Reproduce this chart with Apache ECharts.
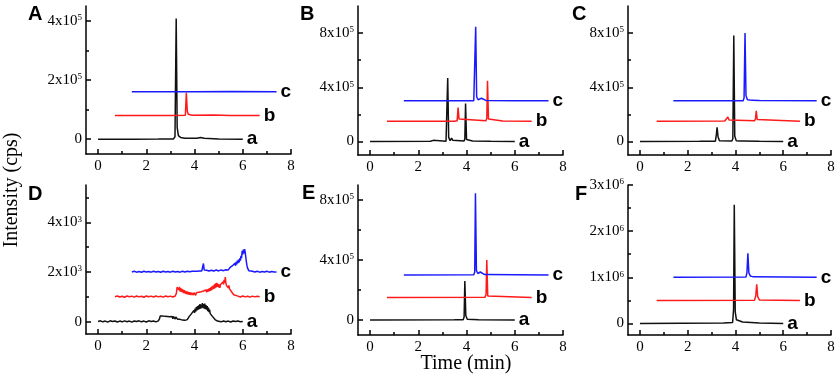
<!DOCTYPE html>
<html>
<head>
<meta charset="utf-8">
<script src="https://cdn.jsdelivr.net/npm/echarts@6/dist/echarts.min.js"></script>
<style>
  html, body { margin: 0; background: #fff; }
  #chart { width: 837px; height: 377px; }
</style>
</head>
<body>
<div id="chart"></div>
<script>
// time axis ticks (same on every panel)
const xMajor = [0, 2, 4, 6, 8];
const xMinor = [1, 3, 5, 7];

// A
const yMajorA = [0, 2e5, 4e5];
const yMinorA = [1e5, 3e5];
const A_a = [[0,0],[1.5,0],[2.5,0.005e5],[3.12,0.01e5],[3.19,0.08e5],[3.24,4.08e5],[3.28,0.4e5],[3.33,0.12e5],[3.37,0.18e5],[3.42,0.06e5],[3.6,0.03e5],[4.1,0.03e5],[4.25,0.06e5],[4.4,0.03e5],[5,0.01e5],[6,0]];
const A_b = [[0.7,0.8e5],[3.0,0.8e5],[3.62,0.81e5],[3.66,1.57e5],[3.7,0.95e5],[3.74,0.84e5],[3.9,0.81e5],[4.8,0.82e5],[5.5,0.8e5],[6.7,0.8e5]];
const A_c = [[1.4,1.6e5],[4,1.6e5],[5.5,1.61e5],[7.4,1.6e5]];

// B
const yMajorB = [0, 4e5, 8e5];
const yMinorB = [2e5, 6e5];
const B_a = [[0,0],[2.5,0.01e5],[2.57,0.02e5],[2.62,0.08e5],[2.67,0.02e5],[3.15,0.02e5],[3.19,0.1e5],[3.22,4.68e5],[3.26,0.3e5],[3.32,0.06e5],[3.38,0.25e5],[3.43,0.08e5],[3.9,0.03e5],[3.93,0.2e5],[3.96,2.8e5],[4.0,0.15e5],[4.06,0.05e5],[4.25,0.04e5],[5,0.02e5],[6,0]];
const B_b = [[0.7,1.5e5],[3.5,1.5e5],[3.61,1.52e5],[3.65,2.5e5],[3.69,1.65e5],[3.74,1.53e5],[4.8,1.52e5],[4.84,1.7e5],[4.87,4.48e5],[4.91,1.65e5],[4.97,1.53e5],[5.5,1.51e5],[6.7,1.5e5]];
const B_c = [[1.4,3e5],[4.3,3.01e5],[4.35,3.1e5],[4.38,8.46e5],[4.42,3.3e5],[4.48,3.08e5],[4.56,3.07e5],[4.62,3.19e5],[4.68,3.06e5],[4.8,3.03e5],[6,3.01e5],[7.4,3e5]];

// C
const yMajorC = [0, 4e5, 8e5];
const yMinorC = [2e5, 6e5];
const C_a = [[0,0],[2.5,0.01e5],[2.59,0.02e5],[2.63,0.06e5],[2.68,0.02e5],[3.16,0.02e5],[3.2,0.5e5],[3.23,1.04e5],[3.27,0.35e5],[3.33,0.05e5],[3.85,0.03e5],[3.89,0.2e5],[3.93,7.83e5],[3.97,0.4e5],[4.03,0.06e5],[4.18,0.04e5],[4.23,0.1e5],[4.28,0.04e5],[5,0.01e5],[6,0]];
const C_b = [[0.7,1.5e5],[3.55,1.51e5],[3.62,1.58e5],[3.68,1.8e5],[3.73,1.58e5],[3.8,1.52e5],[4.8,1.52e5],[4.84,1.7e5],[4.87,2.27e5],[4.91,1.62e5],[4.97,1.52e5],[6.7,1.5e5]];
const C_c = [[1.4,3e5],[4.32,3.01e5],[4.36,3.2e5],[4.4,8.0e5],[4.44,3.4e5],[4.5,3.08e5],[4.6,3.06e5],[4.65,3.15e5],[4.7,3.05e5],[5.0,3.02e5],[7.4,3e5]];

// D (noisy, low level)
const yMajorD = [0, 2e3, 4e3];
const yMinorD = [1e3, 3e3, 5e3];
const D_a = [[0,0],[0.1,30],[0.2,-10],[0.3,20],[0.4,-20],[0.5,30],[0.6,0],[0.7,25],[0.8,-15],[0.9,20],[1.0,-10],[1.1,30],[1.2,-5],[1.3,20],[1.4,-20],[1.5,25],[1.6,0],[1.7,30],[1.8,-10],[1.9,20],[2.0,-15],[2.1,30],[2.2,0],[2.3,25],[2.4,-10],[2.5,30],
  [2.55,120],[2.575,220],[2.6,160],[2.625,250],[2.65,170],[2.675,230],[2.7,150],[2.725,260],[2.75,180],[2.775,210],[2.8,140],[2.825,240],[2.85,160],[2.875,200],[2.9,130],[2.925,230],[2.95,150],[2.975,190],[3.0,120],[3.025,220],[3.05,140],[3.075,200],[3.1,110],[3.125,210],[3.15,130],[3.175,180],[3.2,100],[3.225,190],[3.25,120],[3.275,170],[3.3,90],[3.325,160],[3.35,80],[3.375,150],[3.4,90],[3.425,130],[3.45,70],[3.475,120],[3.5,60],[3.525,110],[3.55,70],[3.575,100],[3.6,50],[3.625,110],[3.65,70],[3.675,120],[3.7,80],[3.725,140],[3.75,100],[3.775,200],
  [3.8,150],[3.825,260],[3.85,200],[3.875,320],[3.9,240],[3.925,380],[3.95,300],[3.975,450],[4.0,350],[4.025,520],[4.05,400],[4.075,580],[4.1,450],[4.125,620],[4.15,480],[4.175,650],[4.2,500],[4.225,700],[4.25,520],[4.275,680],[4.3,540],[4.325,740],[4.35,560],[4.375,700],[4.4,520],[4.425,720],[4.45,500],[4.475,660],[4.5,480],[4.525,620],[4.55,420],[4.575,560],[4.6,380],[4.625,480],[4.65,320],[4.675,400],[4.7,260],[4.725,320],[4.75,200],[4.775,240],[4.8,130],[4.825,170],[4.85,80],[4.875,110],[4.9,40],[4.925,60],[4.95,20],
  [5.0,20],[5.1,-10],[5.2,25],[5.3,-5],[5.4,20],[5.5,-15],[5.6,25],[5.7,0],[5.8,20],[5.9,-10],[6.0,0]];
const D_b = [[0.7,1000],[0.8,1030],[0.9,990],[1.0,1020],[1.1,980],[1.2,1030],[1.3,1000],[1.4,1025],[1.5,985],[1.6,1030],[1.7,995],[1.8,1020],[1.9,980],[2.0,1030],[2.1,1000],[2.2,1025],[2.3,990],[2.4,1030],[2.5,995],[2.6,1020],[2.7,985],[2.8,1030],[2.9,1000],[3.0,1025],[3.1,990],[3.2,1030],
  [3.25,1150],[3.275,1380],[3.3,1300],[3.325,1440],[3.35,1280],[3.375,1400],[3.4,1220],[3.425,1350],[3.45,1200],[3.475,1320],[3.5,1180],[3.525,1290],[3.55,1150],[3.575,1270],[3.6,1140],[3.625,1240],[3.65,1120],[3.675,1220],[3.7,1100],[3.725,1200],[3.75,1090],[3.775,1180],[3.8,1080],[3.825,1170],[3.85,1070],[3.875,1160],[3.9,1080],[3.925,1150],[3.95,1070],[3.975,1160],[4.0,1080],[4.025,1150],[4.05,1060],[4.075,1160],[4.1,1080],[4.125,1170],[4.15,1090],[4.175,1180],[4.2,1100],[4.225,1190],[4.25,1110],[4.275,1200],[4.3,1120],[4.325,1210],[4.35,1130],[4.375,1230],[4.4,1150],[4.425,1250],[4.45,1160],[4.475,1280],[4.5,1180],[4.525,1300],[4.55,1200],[4.575,1320],[4.6,1220],[4.625,1350],[4.65,1240],[4.675,1380],[4.7,1260],[4.725,1420],[4.75,1300],[4.775,1450],[4.8,1320],[4.825,1500],[4.85,1350],[4.875,1540],[4.9,1380],[4.925,1560],[4.95,1400],[4.975,1520],[5.0,1380],[5.025,1500],[5.05,1360],[5.075,1480],[5.1,1400],[5.125,1550],[5.15,1450],[5.175,1600],[5.2,1500],[5.225,1680],[5.25,1560],[5.275,1790],[5.3,1550],[5.325,1450],[5.35,1380],[5.375,1500],[5.4,1360],[5.425,1460],[5.45,1320],[5.475,1400],[5.5,1250],[5.525,1300],[5.55,1180],[5.575,1200],[5.6,1100],[5.625,1080],[5.65,1030],[5.7,1010],
  [5.8,1025],[5.9,990],[6.0,1030],[6.1,995],[6.2,1020],[6.3,985],[6.4,1025],[6.5,995],[6.6,1020],[6.7,1000]];
const D_c = [[1.4,2000],[1.5,2025],[1.6,1990],[1.7,2020],[1.8,1985],[1.9,2025],[2.0,1995],[2.1,2020],[2.2,1990],[2.3,2025],[2.4,1995],[2.5,2020],[2.6,1985],[2.7,2025],[2.8,1995],[2.9,2020],[3.0,1990],[3.1,2025],[3.2,1995],[3.3,2020],[3.4,1990],[3.5,2025],[3.6,2000],[3.7,2030],[3.8,2010],
  [3.85,2060],[3.9,2030],[3.95,2070],[4.0,2030],[4.05,2060],[4.1,2030],[4.15,2065],[4.2,2035],[4.25,2060],[4.3,2040],[4.34,2070],[4.37,2340],[4.4,2080],[4.45,2040],[4.5,2070],[4.6,2035],[4.7,2070],[4.8,2040],[4.9,2075],[5.0,2040],[5.1,2080],[5.2,2050],[5.3,2090],[5.35,2060],
  [5.4,2080],[5.425,2150],[5.45,2100],[5.475,2180],[5.5,2120],[5.525,2220],[5.55,2150],[5.575,2250],[5.6,2180],[5.625,2300],[5.65,2220],[5.675,2350],[5.7,2250],[5.725,2400],[5.75,2300],[5.775,2450],[5.8,2350],[5.825,2500],[5.85,2380],[5.875,2550],[5.9,2450],[5.925,2650],[5.95,2550],[5.975,2850],[6.0,2700],[6.025,2900],[6.05,2750],[6.075,2920],[6.1,2800],[6.125,2600],[6.15,2400],[6.175,2250],[6.2,2150],[6.225,2080],[6.25,2050],[6.3,2030],
  [6.4,2025],[6.5,1995],[6.6,2025],[6.7,1990],[6.8,2020],[6.9,1995],[7.0,2025],[7.1,1990],[7.2,2020],[7.3,1995],[7.4,2000]];

// E
const yMajorE = [0, 4e5, 8e5];
const yMinorE = [2e5, 6e5];
const E_a = [[0,0],[3.5,0.01e5],[3.86,0.02e5],[3.9,0.2e5],[3.93,2.6e5],[3.97,0.3e5],[4.03,0.05e5],[4.5,0.02e5],[6,0]];
const E_b = [[0.7,1.5e5],[4.76,1.51e5],[4.81,1.7e5],[4.84,4.0e5],[4.88,1.6e5],[4.95,1.52e5],[6.7,1.5e5]];
const E_c = [[1.4,3e5],[4.3,3.01e5],[4.34,3.2e5],[4.37,8.45e5],[4.41,3.3e5],[4.47,3.1e5],[4.52,3.12e5],[4.57,3.2e5],[4.63,3.08e5],[4.75,3.03e5],[7.4,3e5]];

// F
const yMajorF = [0, 1e6, 2e6, 3e6];
const yMinorF = [0.5e6, 1.5e6, 2.5e6];
const F_a = [[0,0],[3.5,0.01e6],[3.88,0.02e6],[3.92,0.3e6],[3.95,2.57e6],[3.99,0.25e6],[4.04,0.08e6],[4.12,0.05e6],[4.3,0.03e6],[5,0.01e6],[6,0]];
const F_b = [[0.7,0.5e6],[4.8,0.505e6],[4.85,0.6e6],[4.89,0.85e6],[4.93,0.58e6],[5.0,0.51e6],[6.7,0.5e6]];
const F_c = [[1.4,1e6],[4.44,1.005e6],[4.48,1.1e6],[4.52,1.52e6],[4.56,1.1e6],[4.62,1.03e6],[4.75,1.01e6],[7.4,1e6]];

const traceNames = ['a', 'b', 'c'];
const traceColors = ['#111111', '#ff1a1a', '#1a1aff'];

const panels = [
  { letter: 'A', grid: { left: 86, top: 6, width: 205, height: 148 }, yMin: -0.5e5, yMax: 4.5e5, yMajor: yMajorA, yMinor: yMinorA, lines: [A_a, A_b, A_c], lx: 28, ly: 4 },
  { letter: 'B', grid: { left: 358, top: 6, width: 205, height: 149 }, yMin: -1e5, yMax: 10e5, yMajor: yMajorB, yMinor: yMinorB, lines: [B_a, B_b, B_c], lx: 300, ly: 4 },
  { letter: 'C', grid: { left: 628, top: 6, width: 203, height: 149 }, yMin: -1e5, yMax: 10e5, yMajor: yMajorC, yMinor: yMinorC, lines: [C_a, C_b, C_c], lx: 572, ly: 4 },
  { letter: 'D', grid: { left: 86, top: 185, width: 205, height: 149 }, yMin: -0.5e3, yMax: 5.5e3, yMajor: yMajorD, yMinor: yMinorD, lines: [D_a, D_b, D_c], lx: 28, ly: 184 },
  { letter: 'E', grid: { left: 358, top: 185, width: 205, height: 150 }, yMin: -1e5, yMax: 9e5, yMajor: yMajorE, yMinor: yMinorE, lines: [E_a, E_b, E_c], lx: 302, ly: 183 },
  { letter: 'F', grid: { left: 628, top: 185, width: 203, height: 150 }, yMin: -0.25e6, yMax: 3e6, yMajor: yMajorF, yMinor: yMinorF, lines: [F_a, F_b, F_c], lx: 575, ly: 184 }
];

const serif = 'Liberation Serif';
const sans = 'Liberation Sans';

// 4e5 -> 4x10^5
const sci = (v) => {
  if (v === 0) return '0';
  const e = Math.floor(Math.log10(Math.abs(v)) + 1e-9);
  const m = Math.round(v / Math.pow(10, e));
  return '{m|' + m + 'x10}{s|' + e + '}';
};

const grids = [], xAxes = [], yAxes = [], series = [], graphics = [];
const lineStyle = { color: '#000', width: 1.5 };

// axis that only draws the short inward minor ticks
const minorAxis = (gridIndex, min, max, position, values) => ({
  type: 'value', gridIndex, min, max, position,
  axisLine: { show: false, onZero: false },
  axisTick: { show: true, inside: true, length: 3, customValues: values, lineStyle: { color: '#000', width: 1.5 } },
  axisLabel: { show: false },
  splitLine: { show: false }
});

panels.forEach((p, i) => {
  grids.push(Object.assign({ outerBoundsMode: 'none' }, p.grid));
  xAxes.push({
    type: 'value', gridIndex: i, min: -0.5, max: 8, position: 'bottom',
    axisLine: { onZero: false, lineStyle },
    axisTick: { show: true, inside: true, length: 5, customValues: xMajor, lineStyle: { color: '#000', width: 1.5 } },
    axisLabel: { customValues: xMajor, fontFamily: serif, fontSize: 15, color: '#000', margin: 5 },
    splitLine: { show: false }
  });
  xAxes.push(minorAxis(i, -0.5, 8, 'bottom', xMinor));
  yAxes.push({
    type: 'value', gridIndex: i, min: p.yMin, max: p.yMax, position: 'left',
    axisLine: { onZero: false, lineStyle },
    axisTick: { show: true, inside: true, length: 5, customValues: p.yMajor, lineStyle: { color: '#000', width: 1.5 } },
    axisLabel: {
      customValues: p.yMajor, formatter: sci, margin: 4,
      fontFamily: serif, fontSize: 15, color: '#000',
      rich: {
        m: { fontFamily: serif, fontSize: 15, color: '#000' },
        s: { fontFamily: serif, fontSize: 9, color: '#000', verticalAlign: 'top' }
      }
    },
    splitLine: { show: false }
  });
  yAxes.push(minorAxis(i, p.yMin, p.yMax, 'left', p.yMinor));

  p.lines.forEach((d, k) => {
    series.push({
      type: 'line', xAxisIndex: 2 * i, yAxisIndex: 2 * i, data: d,
      showSymbol: false, symbol: 'none',
      lineStyle: { color: traceColors[k], width: 1.5 },
      itemStyle: { color: traceColors[k] },
      endLabel: {
        show: true, formatter: traceNames[k], distance: 4,
        fontFamily: sans, fontWeight: 'bold', fontSize: 19, color: '#000'
      }
    });
  });

  graphics.push({
    type: 'text', left: p.lx, top: p.ly,
    style: { text: p.letter, font: 'bold 20px "Liberation Sans"', fill: '#000' }
  });
});

graphics.push({
  type: 'text', x: 466, y: 364,
  style: { text: 'Time (min)', font: '20px "Liberation Serif"', fill: '#000', textAlign: 'center', textVerticalAlign: 'middle' }
});
graphics.push({
  type: 'text', x: 12, y: 190, rotation: Math.PI / 2,
  style: { text: 'Intensity (cps)', font: '20px "Liberation Serif"', fill: '#000', textAlign: 'center', textVerticalAlign: 'middle' }
});

const myChart = echarts.init(document.getElementById('chart'), null, { renderer: 'canvas' });
myChart.setOption({
  animation: false,
  backgroundColor: '#fff',
  grid: grids,
  xAxis: xAxes,
  yAxis: yAxes,
  series: series,
  graphic: { elements: graphics }
});
</script>
</body>
</html>
